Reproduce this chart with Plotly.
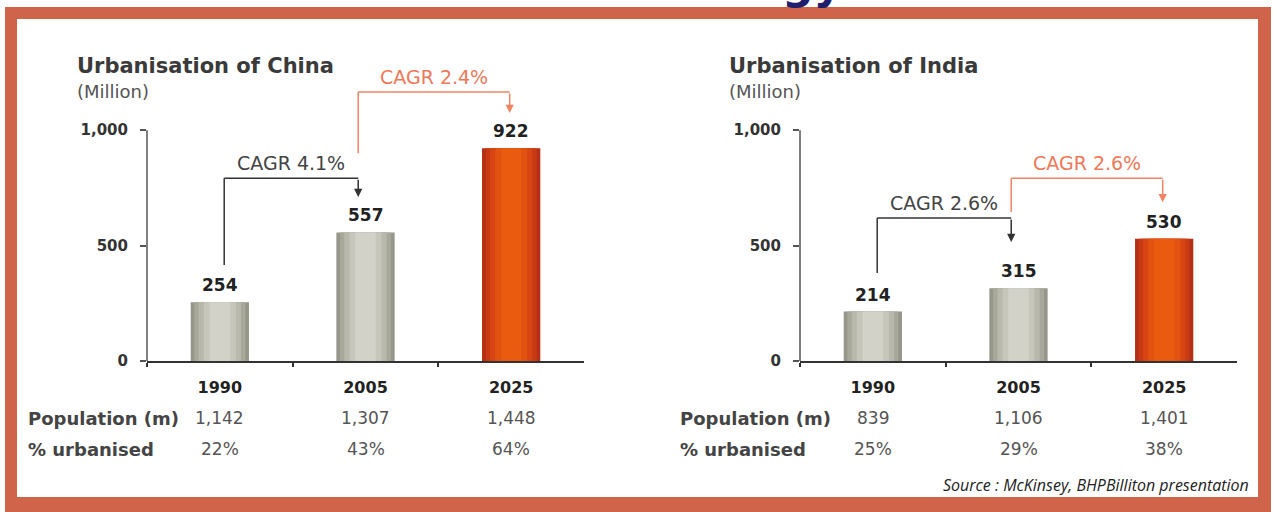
import plotly.graph_objects as go

# Data
YEARS = ["1990", "2005", "2025"]
CHINA_URBAN = [254, 557, 922]
INDIA_URBAN = [214, 315, 530]
CHINA_POP = [1142, 1307, 1448]
INDIA_POP = [839, 1106, 1401]
CHINA_PCT = [22, 43, 64]
INDIA_PCT = [25, 29, 38]
CHINA_CAGR = ["CAGR 4.1%", "CAGR 2.4%"]
INDIA_CAGR = ["CAGR 2.6%", "CAGR 2.6%"]

W, H = 1274, 512
FONT = "DejaVu Sans"
BORDER = "#d0644a"
ORANGE_LINE = "#f08464"
DARK = "#333333"

# bar shading layers (width, gray colour, orange colour) to fake the cylinder look
LAYERS = [
    (0.40, "#96968a", "#b52f17"),
    (0.35, "#a7a79a", "#c83a14"),
    (0.29, "#b8b8ac", "#d84512"),
    (0.22, "#c6c6bb", "#e25210"),
    (0.14, "#d2d2c8", "#ea5a0f"),
]


def px(x):
    return x / W


def py(y):
    return 1 - y / H


fig = go.Figure()
annotations = []
shapes = []


def add_chart(n, title, urban, pop, pct, cagr, levels, x_left):
    xa = "x" if n == 1 else f"x{n}"
    ya = "y" if n == 1 else f"y{n}"
    colors_idx = [0, 0, 1]
    for width, gray, orange in LAYERS:
        fig.add_trace(go.Bar(
            x=YEARS, y=urban, width=width, xaxis=xa, yaxis=ya,
            marker=dict(color=[(gray, orange)[c] for c in colors_idx], line=dict(width=0)),
            hoverinfo="skip", showlegend=False,
        ))
    # value labels
    for i, v in enumerate(urban):
        annotations.append(dict(
            x=i, y=v, xref=xa, yref=ya, text=f"{v:,}", showarrow=False,
            yanchor="bottom", yshift=5,
            font=dict(family=FONT, size=17, color="#222", weight="bold"),
        ))
    # title
    annotations.append(dict(
        x=px(x_left), y=py(66), xref="paper", yref="paper", xanchor="left", yanchor="middle",
        text="Urbanisation of " + title, showarrow=False,
        font=dict(family=FONT, size=21, color="#3a3a3a", weight="bold"),
    ))
    annotations.append(dict(
        x=px(x_left), y=py(91), xref="paper", yref="paper", xanchor="left", yanchor="middle",
        text="(Million)", showarrow=False,
        font=dict(family=FONT, size=18, color="#555"),
    ))
    # y axis line only from 0 to 1,000
    shapes.append(dict(
        type="line", xref=f"{xa} domain", yref=ya, x0=0, x1=0, y0=0, y1=1000,
        line=dict(color="#555", width=1.5),
    ))
    # table rows under the chart
    row_left = x_left - 49
    for label, vals, ypx in [("Population (m)", [f"{p:,}" for p in pop], 418),
                             ("% urbanised", [f"{p}%" for p in pct], 449)]:
        annotations.append(dict(
            x=px(row_left), y=py(ypx), xref="paper", yref="paper", xanchor="left",
            yanchor="middle", text=label, showarrow=False,
            font=dict(family=FONT, size=18, color="#444", weight="bold"),
        ))
        for i, t in enumerate(vals):
            annotations.append(dict(
                x=i, y=py(ypx), xref=xa, yref="paper", yanchor="middle",
                text=t, showarrow=False, font=dict(family=FONT, size=17, color="#555"),
            ))
    # CAGR connectors
    for k, (label, (start, top, tip)) in enumerate(zip(cagr, levels)):
        col = DARK if k == 0 else ORANGE_LINE
        tcol = "#444" if k == 0 else "#f07858"
        x0 = k + (0.03 if k == 0 else -0.05)
        x1 = k + 1 - (0.05 if k == 0 else 0.01)
        shapes.append(dict(type="line", xref=xa, yref=ya, x0=x0, x1=x0, y0=start, y1=top,
                           line=dict(color=col, width=1.5)))
        shapes.append(dict(type="line", xref=xa, yref=ya, x0=x0, x1=x1, y0=top, y1=top,
                           line=dict(color=col, width=1.5)))
        annotations.append(dict(
            x=x1, y=tip, ax=x1, ay=top, xref=xa, yref=ya, axref=xa, ayref=ya,
            showarrow=True, arrowhead=2, arrowsize=1.1, arrowwidth=1.5, arrowcolor=col, text="",
        ))
        annotations.append(dict(
            x=(x0 + x1) / 2, y=top, xref=xa, yref=ya, yanchor="bottom", yshift=2,
            text=label, showarrow=False, font=dict(family=FONT, size=19, color=tcol),
        ))


add_chart(1, "China", CHINA_URBAN, CHINA_POP, CHINA_PCT, CHINA_CAGR,
          [(416, 792, 710), (900, 1165, 1074)], 75)
add_chart(2, "India", INDIA_URBAN, INDIA_POP, INDIA_PCT, INDIA_CAGR,
          [(381, 619, 515), (645, 792, 688)], 727)

# source note
annotations.append(dict(
    x=px(1251), y=py(485), xref="paper", yref="paper", xanchor="right", yanchor="middle",
    text="Source : McKinsey, BHPBilliton presentation", showarrow=False,
    font=dict(family="Open Sans", size=16, color="#222", style="italic"),
))
# cut-off slide title peeking in at the top
annotations.append(dict(
    x=px(812), y=py(11), xref="paper", yref="paper", xanchor="center", yanchor="bottom",
    text="gy", showarrow=False,
    font=dict(family=FONT, size=44, color="#1f1f6e", weight="bold"),
))

# orange frame around the slide content
for x0, y0, x1, y1 in [(5, 7, 1271, 19), (5, 497, 1271, 512), (5, 7, 17, 512), (1258, 7, 1271, 512)]:
    shapes.append(dict(type="rect", xref="paper", yref="paper", x0=px(x0), x1=px(x1),
                       y0=py(y1), y1=py(y0), fillcolor=BORDER, line=dict(width=0), layer="above"))

yaxis_style = dict(
    range=[0, 1200], tickvals=[0, 500, 1000], tickformat=",", showline=False,
    showgrid=False, zeroline=False, ticks="outside", ticklen=6, tickwidth=1.5,
    tickcolor="#555", ticklabelstandoff=9, automargin=False,
    tickfont=dict(family=FONT, size=15, color="#333", weight="bold"),
    domain=[py(361), py(84)], fixedrange=True,
)
xaxis_style = dict(
    type="category", range=[-0.5, 2.5], showline=True, linecolor="#333", linewidth=2,
    ticks="outside", tickson="boundaries", ticklen=4, tickwidth=1.5, tickcolor="#333",
    showgrid=False, ticklabelstandoff=11, automargin=False, fixedrange=True,
    tickfont=dict(family=FONT, size=16, color="#222", weight="bold"),
)

fig.update_layout(
    width=W, height=H, margin=dict(l=0, r=0, t=0, b=0, pad=0, autoexpand=False),
    paper_bgcolor="white", plot_bgcolor="rgba(0,0,0,0)",
    barmode="overlay", showlegend=False,
    xaxis=dict(xaxis_style, domain=[px(147), px(584)], anchor="y"),
    yaxis=dict(yaxis_style, anchor="x"),
    xaxis2=dict(xaxis_style, domain=[px(800), px(1237)], anchor="y2"),
    yaxis2=dict(yaxis_style, anchor="x2"),
    annotations=annotations, shapes=shapes,
)

fig.write_html("out.html", post_script="document.body.style.margin = '0';",
               config={"displayModeBar": False})
